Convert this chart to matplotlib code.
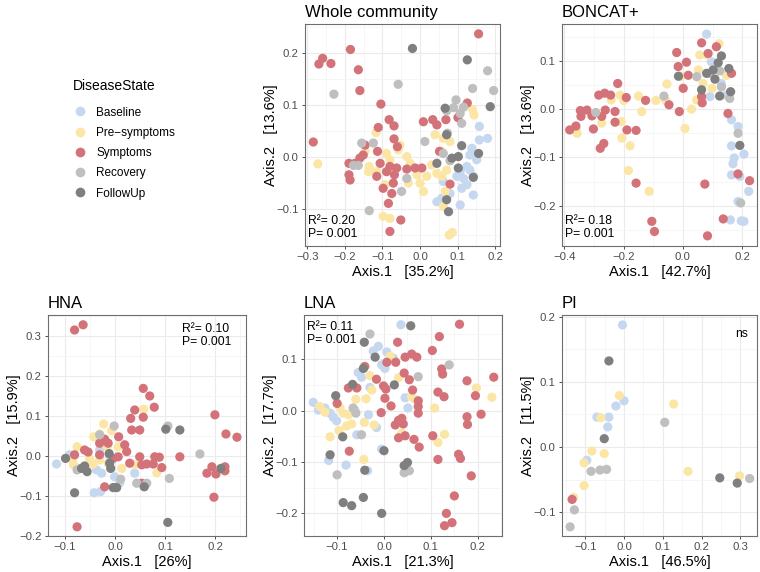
import matplotlib
matplotlib.use("Agg")
import matplotlib.pyplot as plt
import numpy as np
from matplotlib.ticker import FuncFormatter, MultipleLocator
from matplotlib.lines import Line2D

plt.rcParams['font.family'] = ['Liberation Sans', 'DejaVu Sans']

states = ['Baseline', 'Pre\u2212symptoms', 'Symptoms', 'Recovery', 'FollowUp']
colors = ['#C6D7F0', '#FBE6A6', '#D4727A', '#BFBFBF', '#7F7F7F']

# Whole community
wc_baseline = [(0.158, 0.058), (0.158, 0.032), (0.180, 0.035), (0.138, 0.016), (0.133, 0.003),
               (0.151, -0.006), (0.125, -0.019), (0.107, -0.029), (0.098, -0.038), (0.116, -0.042),
               (0.133, -0.026), (0.111, -0.061), (0.080, -0.071), (0.045, -0.087), (0.058, -0.080),
               (0.125, -0.054), (0.142, -0.038), (0.107, -0.093), (0.142, -0.074), (0.062, -0.048)]
wc_pre = [(-0.272, -0.014), (-0.117, 0.046), (-0.146, 0.010), (-0.135, -0.019), (-0.115, -0.029),
          (-0.089, 0.006), (-0.080, -0.006), (-0.058, 0.013), (-0.053, 0.022), (-0.035, 0.0),
          (-0.026, -0.013), (-0.008, -0.035), (-0.031, -0.051), (0.009, -0.067), (0.0, -0.051),
          (0.018, -0.038), (0.040, 0.042), (0.062, 0.035), (0.080, 0.029), (0.058, 0.010),
          (0.031, -0.016), (0.045, -0.032), (0.058, -0.038), (0.071, -0.026), (0.067, -0.067),
          (0.062, -0.096), (-0.093, -0.054), (-0.098, -0.115), (-0.080, -0.119), (0.078, -0.151),
          (0.086, -0.146), (0.140, 0.090), (0.144, 0.080), (-0.137, -0.029)]
wc_symptoms = [(0.156, 0.236), (-0.185, 0.206), (-0.259, 0.189), (-0.269, 0.178), (-0.237, 0.179),
               (-0.164, 0.167), (-0.160, 0.127), (-0.104, 0.101), (0.126, 0.103), (0.101, 0.075),
               (-0.284, 0.028), (-0.111, 0.056), (-0.082, 0.071), (-0.069, 0.059), (0.009, 0.067),
               (0.034, 0.071), (0.045, 0.061), (0.069, 0.071), (-0.069, 0.034), (-0.060, 0.019),
               (-0.146, 0.022), (-0.189, -0.013), (-0.173, -0.013), (-0.160, -0.003), (-0.151, 0.003),
               (-0.113, 0.010), (-0.106, -0.013), (-0.080, -0.019), (-0.062, -0.022), (-0.068, -0.035),
               (-0.189, -0.035), (-0.186, -0.045), (-0.115, -0.038), (-0.071, -0.051), (-0.075, -0.071),
               (-0.084, -0.090), (-0.051, -0.122), (-0.080, -0.144), (-0.035, -0.024), (-0.013, -0.022),
               (0.005, -0.022), (0.052, 0.010), (0.080, -0.053), (-0.089, -0.029), (-0.098, -0.061)]
wc_recovery = [(-0.229, 0.120), (-0.058, 0.139), (0.140, 0.131), (0.180, 0.165), (0.196, 0.127),
               (0.096, 0.109), (0.071, 0.088), (0.089, 0.094), (0.116, 0.095), (0.107, 0.083),
               (0.111, 0.064), (0.073, 0.045), (0.013, 0.029), (-0.155, 0.026), (-0.124, 0.026),
               (-0.177, -0.017), (-0.164, -0.017), (-0.049, -0.067), (-0.135, -0.104), (-0.035, -0.042),
               (0.062, 0.006), (0.080, -0.008)]
wc_followup = [(-0.020, 0.208), (0.126, 0.186), (0.187, 0.096), (0.067, 0.093), (0.111, 0.021),
               (0.156, 0.006), (0.102, 0.0), (0.085, -0.003), (0.045, -0.013), (0.142, -0.040),
               (0.102, -0.022), (0.071, -0.083), (0.076, -0.106), (0.071, 0.042)]

# BONCAT+
bc_baseline = [(0.080, 0.155), (0.096, 0.098), (0.091, 0.026), (0.164, -0.022), (0.186, -0.036),
               (0.164, -0.076), (0.173, -0.101), (0.169, -0.113), (0.164, -0.136), (0.192, -0.139),
               (0.206, -0.093), (0.222, -0.170), (0.186, -0.191), (0.160, -0.229), (0.197, -0.231),
               (0.206, -0.232), (0.147, 0.029), (0.130, 0.053)]
bc_pre = [(-0.360, -0.043), (-0.357, -0.050), (-0.274, -0.029), (-0.242, 0.019), (-0.212, 0.029),
          (-0.199, 0.018), (-0.208, -0.026), (-0.206, -0.060), (-0.178, -0.076), (-0.184, -0.127),
          (-0.114, -0.170), (-0.150, 0.027), (-0.139, -0.005), (-0.091, 0.018), (-0.054, 0.052),
          (-0.058, 0.018), (-0.007, 0.068), (0.007, -0.040), (0.029, 0.0), (0.046, 0.019),
          (0.052, 0.081), (0.057, 0.112), (0.082, 0.112), (0.122, 0.135), (0.068, 0.053),
          (0.098, 0.043), (0.147, 0.070)]
bc_symptoms = [(0.063, 0.137), (-0.021, 0.117), (0.012, 0.097), (-0.016, 0.088), (0.018, 0.070),
               (0.085, 0.115), (0.113, 0.129), (0.164, 0.074), (-0.220, 0.053), (-0.284, 0.029),
               (-0.264, 0.033), (-0.244, 0.029), (-0.191, 0.024), (-0.382, -0.043), (-0.361, -0.035),
               (-0.346, -0.003), (-0.324, -0.002), (-0.344, -0.015), (-0.307, -0.014), (-0.262, -0.002),
               (-0.274, -0.015), (-0.229, -0.005), (-0.229, -0.027), (-0.302, -0.041), (-0.189, -0.043),
               (-0.158, -0.044), (-0.126, 0.018), (-0.047, 0.009), (-0.012, -0.005), (0.001, 0.043),
               (0.063, 0.026), (0.065, 0.013), (-0.267, -0.071), (-0.279, -0.081), (-0.158, -0.153),
               (-0.105, -0.232), (-0.096, -0.253), (0.074, -0.155), (0.083, -0.262), (0.136, -0.227),
               (0.152, -0.009), (0.186, -0.134), (0.225, -0.148)]
bc_recovery = [(-0.294, -0.007), (-0.064, 0.027), (0.047, 0.067), (0.124, 0.079), (0.130, 0.046),
               (0.158, 0.022), (0.186, -0.050), (0.195, -0.194), (0.091, 0.074)]
bc_followup = [(-0.015, 0.068), (0.130, 0.110), (0.119, 0.096), (0.080, 0.074), (0.102, 0.081),
               (0.108, 0.062), (0.155, 0.084), (0.161, 0.036), (0.124, 0.027), (0.063, 0.040),
               (0.192, -0.075)]

# HNA
hna_baseline = [(-0.117, -0.020), (-0.091, 0.003), (-0.074, -0.031), (-0.037, -0.035), (-0.027, -0.043),
                (-0.042, -0.092), (-0.029, -0.089), (-0.001, -0.052), (0.009, -0.067), (0.039, -0.043),
                (-0.011, -0.002), (-0.031, 0.015)]
hna_pre = [(-0.023, 0.080), (-0.043, 0.048), (-0.031, 0.055), (-0.007, 0.063), (-0.076, 0.023),
           (-0.085, -0.010), (-0.083, -0.022), (-0.051, -0.008), (-0.031, -0.010), (-0.044, -0.020),
           (-0.014, -0.018), (-0.016, 0.023), (0.006, 0.023), (0.013, -0.031), (0.039, -0.022),
           (0.057, 0.117), (0.083, -0.042)]
hna_symptoms = [(-0.081, 0.315), (-0.064, 0.328), (0.056, 0.169), (0.069, 0.150), (0.078, 0.122),
                (0.039, 0.115), (0.031, 0.094), (0.056, 0.097), (0.033, 0.065), (0.049, 0.065),
                (0.007, 0.048), (-0.021, 0.042), (-0.031, 0.032), (-0.014, 0.032), (0.019, 0.028),
                (0.023, 0.011), (-0.061, 0.015), (-0.081, 0.003), (-0.031, 0.003), (0.006, -0.002),
                (0.029, -0.018), (0.049, -0.002), (0.053, -0.022), (0.063, -0.020), (0.076, -0.020),
                (0.079, -0.002), (0.088, -0.003), (0.093, -0.029), (0.129, -0.002), (0.053, -0.068),
                (-0.021, -0.077), (-0.076, -0.177), (0.199, 0.103), (0.221, 0.055), (0.243, 0.047),
                (0.183, -0.043), (0.193, -0.027), (0.201, -0.045), (0.219, -0.027), (0.219, -0.037),
                (0.197, -0.103), (-0.004, -0.006), (-0.054, 0.010)]
hna_recovery = [(-0.002, 0.075), (-0.076, -0.035), (-0.031, 0.053), (0.105, 0.075), (0.011, -0.058),
                (0.043, -0.068), (0.063, -0.068), (0.108, -0.056), (0.169, 0.005)]
hna_followup = [(-0.099, -0.006), (-0.061, -0.025), (-0.056, -0.039), (-0.067, -0.031), (-0.011, -0.018),
                (-0.009, -0.031), (-0.081, -0.092), (-0.004, -0.079), (0.003, -0.079), (0.058, -0.077),
                (0.101, 0.067), (0.129, 0.065), (0.211, -0.031), (0.105, -0.166), (-0.012, 0.006)]

# LNA
lna_baseline = [(0.036, 0.167), (-0.012, 0.125), (-0.023, 0.116), (0.006, 0.114), (-0.005, 0.089),
                (0.002, 0.082), (-0.055, 0.074), (-0.048, 0.065), (-0.030, 0.045), (-0.151, 0.016),
                (-0.140, 0.001), (-0.126, 0.005), (-0.115, -0.005), (-0.108, -0.013), (-0.101, -0.020),
                (-0.062, 0.001), (-0.033, -0.008), (-0.016, -0.033), (-0.058, -0.047), (-0.005, -0.075),
                (-0.118, -0.097), (-0.081, -0.106), (-0.035, -0.117), (0.045, 0.025), (0.051, 0.005),
                (0.020, 0.102)]
lna_pre = [(0.013, 0.106), (-0.030, 0.068), (0.031, 0.064), (-0.060, 0.022), (-0.038, 0.023),
           (-0.026, 0.040), (-0.137, 0.008), (-0.126, -0.003), (-0.094, 0.006), (-0.087, -0.005),
           (-0.076, -0.008), (-0.069, -0.026), (-0.080, -0.030), (-0.096, -0.039), (-0.115, -0.051),
           (-0.042, -0.023), (-0.021, -0.028), (-0.043, -0.095), (0.059, 0.027), (0.066, 0.022),
           (0.108, 0.005), (0.129, -0.046), (0.115, -0.062), (0.197, 0.044), (0.230, 0.026),
           (0.038, -0.044)]
lna_symptoms = [(0.161, 0.168), (0.118, 0.144), (0.029, 0.133), (0.045, 0.104), (0.059, 0.110),
                (0.070, 0.104), (0.025, 0.094), (0.006, 0.094), (0.103, 0.117), (0.123, 0.081),
                (0.125, 0.071), (-0.041, 0.086), (-0.016, 0.061), (0.043, 0.073), (0.054, 0.060),
                (-0.001, 0.048), (0.004, 0.042), (0.061, 0.040), (0.002, 0.024), (0.015, 0.009),
                (0.073, 0.019), (0.073, 0.008), (0.073, -0.005), (-0.006, -0.004), (0.038, -0.015),
                (0.031, -0.019), (0.024, -0.028), (0.041, -0.026), (0.031, -0.053), (0.045, -0.049),
                (0.064, -0.056), (0.075, -0.071), (0.104, -0.049), (0.115, -0.095), (0.115, 0.036),
                (0.128, 0.027), (0.177, 0.058), (0.195, 0.029), (0.234, 0.065), (0.207, -0.007),
                (0.177, -0.012), (0.178, -0.027), (0.159, -0.085), (0.163, -0.093), (0.186, -0.127),
                (0.150, -0.166), (0.133, -0.200), (0.129, -0.224), (0.145, -0.218), (-0.074, -0.079),
                (-0.076, 0.044), (-0.058, 0.044), (-0.100, 0.014)]
lna_recovery = [(-0.030, 0.149), (-0.100, -0.125), (-0.066, 0.005), (-0.060, -0.005), (-0.048, -0.047),
                (0.073, 0.066), (0.139, 0.089), (0.043, -0.121), (0.054, -0.117)]
lna_followup = [(0.057, 0.165), (-0.042, 0.133), (-0.019, 0.104), (-0.044, 0.082), (-0.067, 0.051),
                (0.022, 0.050), (-0.103, 0.029), (-0.088, -0.051), (-0.115, -0.086), (-0.041, -0.116),
                (0.0, -0.078), (0.050, -0.101), (0.043, -0.107), (-0.087, -0.179), (-0.069, -0.185),
                (-0.044, -0.169), (-0.005, -0.200)]

# PI
pi_baseline = [(-0.004, 0.187), (0.0, 0.071), (-0.021, 0.063), (-0.070, 0.046), (-0.039, 0.046),
               (-0.042, 0.031), (-0.096, -0.020)]
pi_pre = [(-0.012, 0.079), (-0.060, 0.045), (0.128, 0.066), (-0.083, -0.006), (-0.051, -0.010),
          (-0.103, -0.024), (-0.103, -0.059), (0.165, -0.037), (0.298, -0.044), (-0.130, -0.077)]
pi_symptoms = [(-0.134, -0.080)]
pi_recovery = [(0.105, 0.038), (-0.085, -0.037), (-0.062, -0.035), (-0.045, -0.034), (-0.128, -0.096),
               (-0.139, -0.122), (0.324, -0.048)]
pi_followup = [(-0.039, 0.132), (-0.051, 0.013), (0.247, -0.047), (0.292, -0.055)]

panels = [
    dict(title='Whole community', pts=[wc_baseline, wc_pre, wc_symptoms, wc_recovery, wc_followup],
         xlab='Axis.1   [35.2%]', ylab='Axis.2   [13.6%]', xlim=(-0.306, 0.213), ylim=(-0.172, 0.255),
         xstep=0.1, ystep=0.1, stat='R\u00b2= 0.20\nP= 0.001', pos='bl',
         rect=[305, 246, 195, 222]),
    dict(title='BONCAT+', pts=[bc_baseline, bc_pre, bc_symptoms, bc_recovery, bc_followup],
         xlab='Axis.1   [42.7%]', ylab='Axis.2   [13.6%]', xlim=(-0.408, 0.25), ylim=(-0.283, 0.176),
         xstep=0.2, ystep=0.1, stat='R\u00b2= 0.18\nP= 0.001', pos='bl',
         rect=[562, 246, 195, 222]),
    dict(title='HNA', pts=[hna_baseline, hna_pre, hna_symptoms, hna_recovery, hna_followup],
         xlab='Axis.1   [26%]', ylab='Axis.2   [15.9%]', xlim=(-0.134, 0.261), ylim=(-0.2, 0.3525),
         xstep=0.1, ystep=0.1, stat='R\u00b2= 0.10\nP= 0.001', pos='tr',
         rect=[48, 536, 198, 221]),
    dict(title='LNA', pts=[lna_baseline, lna_pre, lna_symptoms, lna_recovery, lna_followup],
         xlab='Axis.1   [21.3%]', ylab='Axis.2   [17.7%]', xlim=(-0.1706, 0.2516), ylim=(-0.244, 0.186),
         xstep=0.1, ystep=0.1, stat='R\u00b2= 0.11\nP= 0.001', pos='tl',
         rect=[304, 536, 198, 221]),
    dict(title='PI', pts=[pi_baseline, pi_pre, pi_symptoms, pi_recovery, pi_followup],
         xlab='Axis.1   [46.5%]', ylab='Axis.2   [11.5%]', xlim=(-0.160, 0.343), ylim=(-0.136, 0.2023),
         xstep=0.1, ystep=0.1, stat='ns', pos='tr_ns',
         rect=[562, 536, 195, 221]),
]


def fmt(v, pos):
    s = '%.1f' % v
    if s == '-0.0':
        s = '0.0'
    return s.replace('-', '\u2212')


W, H = 760, 572
fig = plt.figure(figsize=(7.6, 5.72), dpi=100)

for p in panels:
    left, bottom, w, h = p['rect']
    ax = fig.add_axes([left / W, 1 - bottom / H, w / W, h / H])
    ax.set_axisbelow(True)
    for pts, c in zip(p['pts'], colors):
        arr = np.array(pts)
        ax.scatter(arr[:, 0], arr[:, 1], s=44, color=c, edgecolors='none', zorder=3)
    ax.set_xlim(p['xlim'])
    ax.set_ylim(p['ylim'])
    ax.xaxis.set_major_locator(MultipleLocator(p['xstep']))
    ax.xaxis.set_minor_locator(MultipleLocator(p['xstep'] / 2))
    ax.yaxis.set_major_locator(MultipleLocator(p['ystep']))
    ax.yaxis.set_minor_locator(MultipleLocator(p['ystep'] / 2))
    ax.xaxis.set_major_formatter(FuncFormatter(fmt))
    ax.yaxis.set_major_formatter(FuncFormatter(fmt))
    ax.grid(True, which='major', color='#EBEBEB', lw=0.8)
    ax.grid(True, which='minor', color='#F3F3F3', lw=0.5)
    ax.tick_params(which='major', length=2.5, width=0.6, color='#333333', labelsize=8.2,
                   labelcolor='#4D4D4D', pad=2)
    ax.tick_params(which='minor', length=0)
    for sp in ax.spines.values():
        sp.set_color('#6E6E6E')
        sp.set_linewidth(0.8)
    ax.set_xlabel(p['xlab'], fontsize=10.5, labelpad=2)
    ax.set_ylabel(p['ylab'], fontsize=10.5)
    ax.yaxis.set_label_coords(-27 / w, 0.5)
    ax.set_title(p['title'], loc='left', fontsize=12, pad=5)
    if p['pos'] == 'bl':
        ax.text(0.015, 0.025, p['stat'], transform=ax.transAxes, ha='left', va='bottom',
                fontsize=8.7, linespacing=1.15, zorder=5)
    elif p['pos'] == 'tl':
        ax.text(0.015, 0.975, p['stat'], transform=ax.transAxes, ha='left', va='top',
                fontsize=8.7, linespacing=1.15, zorder=5)
    elif p['pos'] == 'tr':
        ax.text(0.677, 0.965, p['stat'], transform=ax.transAxes, ha='left', va='top',
                fontsize=8.7, linespacing=1.15, zorder=5)
    else:
        ax.text(0.92, 0.94, p['stat'], transform=ax.transAxes, ha='center', va='top',
                fontsize=8.7, zorder=5)

handles = [Line2D([], [], marker='o', ls='none', markersize=7, markerfacecolor=c,
                  markeredgecolor='none') for c in colors]
leg = fig.legend(handles, states, title='DiseaseState', loc='upper left',
                 bbox_to_anchor=(62 / W, 1 - 68 / H), frameon=False, fontsize=8.5,
                 title_fontsize=10, labelspacing=0.7, handletextpad=0.8, handlelength=1.2)
leg._legend_box.align = 'left'
leg._legend_box.sep = 10

fig.savefig('out.png', dpi=100)
